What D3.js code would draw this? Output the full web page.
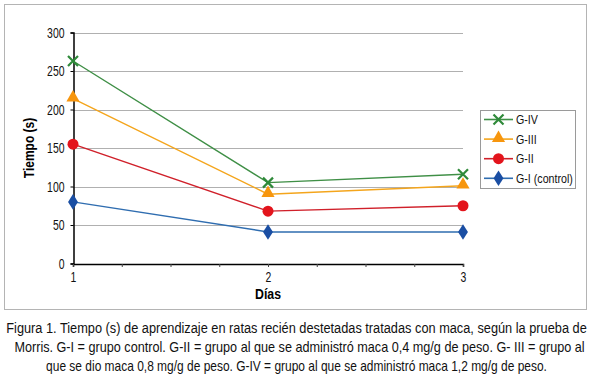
<!DOCTYPE html>
<html>
<head>
<meta charset="utf-8">
<script src="https://cdn.jsdelivr.net/npm/d3@7"></script>
<style>
  body { margin: 0; background: #fff; }
  svg { display: block; font-family: "Liberation Sans", Arial, sans-serif; }
</style>
</head>
<body>
<div id="container"></div>
<script>
let w = 591;
let h = 379;

// data
let dias = [1, 2, 3];
let gIV = [263, 105, 116];
let gIII = [214, 90, 101];
let gII = [155, 68, 75];
let gI = [80, 41, 41];
let yTicks = [0, 50, 100, 150, 200, 250, 300];
let seriesNames = ["G-IV", "G-III", "G-II", "G-I (control)"];
let caption = [
  "Figura 1. Tiempo (s) de aprendizaje en ratas recién destetadas tratadas con maca, según la prueba de",
  "Morris. G-I = grupo control. G-II = grupo al que se administró maca 0,4 mg/g de peso. G- III = grupo al",
  "que se dio maca 0,8 mg/g de peso. G-IV = grupo al que se administró maca 1,2 mg/g de peso."
];
// left and right ends of the caption lines
let captionSpan = [[6, 587], [14, 585], [46, 547]];

let series = [
  { name: seriesNames[0], values: gIV, line: "#3f8f46", fill: "#2f8a3a", shape: "x" },
  { name: seriesNames[1], values: gIII, line: "#f4a51c", fill: "#f7960e", shape: "tri" },
  { name: seriesNames[2], values: gII, line: "#d0202a", fill: "#e3141c", shape: "circle" },
  { name: seriesNames[3], values: gI, line: "#2f6db0", fill: "#1a4ea3", shape: "diamond" }
];

// squeeze a text so it looks like the narrow font of the original
function condense(sel, k) {
  sel.each(function() {
    let len = this.getComputedTextLength();
    d3.select(this).attr("textLength", len * k).attr("lengthAdjust", "spacingAndGlyphs");
  });
}

let viz = d3.select("#container")
  .append("svg")
    .attr("width", w)
    .attr("height", h);

// outer frame of the chart
viz.append("rect")
  .attr("x", 4.5).attr("y", 4.5)
  .attr("width", 582).attr("height", 305)
  .attr("fill", "none")
  .attr("stroke", "#b4b4b4");

let xScale = d3.scaleLinear().domain([1, 3]).range([73, 463]);
let yScale = d3.scaleLinear().domain([0, 300]).range([263.5, 32.5]);

// gridlines
viz.append("g").selectAll("line").data(yTicks.filter(d => d > 0)).enter()
  .append("line")
    .attr("x1", 73).attr("x2", 463)
    .attr("y1", d => Math.round(yScale(d)) + 0.5)
    .attr("y2", d => Math.round(yScale(d)) + 0.5)
    .attr("stroke", "#b0b0b0");

// y axis
let yAxis = d3.axisLeft(yScale).tickValues(yTicks).tickSize(3).tickPadding(6);
let yAxisGroup = viz.append("g").attr("transform", "translate(73.5,0)").call(yAxis);
yAxisGroup.select(".domain").attr("stroke", "#000").attr("stroke-width", 1.5);
yAxisGroup.selectAll("text").attr("font-size", 14.5).attr("fill", "#111").style("font-family", "inherit")
  .call(condense, 0.72);

// x axis with minor ticks every 0.25
let xAxis = d3.axisBottom(xScale).tickValues(d3.range(1, 3.01, 0.25)).tickSize(3).tickPadding(5)
  .tickFormat(d => Number.isInteger(d) ? d : "");
let xAxisGroup = viz.append("g").attr("transform", "translate(0,264)").call(xAxis);
xAxisGroup.select(".domain").attr("stroke", "#000").attr("stroke-width", 1.5);
xAxisGroup.selectAll("text").attr("font-size", 14.5).attr("fill", "#111").style("font-family", "inherit")
  .filter(function() { return this.textContent != ""; })
  .call(condense, 0.72);
xAxisGroup.selectAll(".tick line").attr("stroke", "#444");

// axis titles
viz.append("text")
  .attr("x", xScale(2)).attr("y", 299)
  .attr("text-anchor", "middle")
  .attr("font-size", 15).attr("font-weight", "bold")
  .text("Días")
  .call(condense, 0.82);

viz.append("text")
  .attr("transform", "translate(34,148) rotate(-90)")
  .attr("text-anchor", "middle")
  .attr("font-size", 15).attr("font-weight", "bold")
  .text("Tiempo (s)")
  .call(condense, 0.8);

function drawMarker(g, s, x, y) {
  if (s.shape == "x") {
    g.append("path")
      .attr("d", "M" + (x-5) + "," + (y-5) + "L" + (x+5) + "," + (y+5) + "M" + (x-5) + "," + (y+5) + "L" + (x+5) + "," + (y-5))
      .attr("stroke", s.fill).attr("stroke-width", 2.2);
  } else if (s.shape == "tri") {
    g.append("path").attr("d", d3.symbol(d3.symbolTriangle, 75)())
      .attr("transform", "translate(" + x + "," + (y - 1) + ")").attr("fill", s.fill);
  } else if (s.shape == "circle") {
    g.append("circle").attr("cx", x).attr("cy", y).attr("r", 5.5).attr("fill", s.fill);
  } else {
    g.append("path").attr("d", d3.symbol(d3.symbolDiamond, 70)())
      .attr("transform", "translate(" + x + "," + y + ") scale(1.1,1)").attr("fill", s.fill);
  }
}

let line = d3.line().x((d, i) => xScale(dias[i])).y(d => yScale(d));

let vizgroup = viz.append("g");
series.slice().reverse().forEach(function(s) {
  let g = vizgroup.append("g");
  g.append("path").datum(s.values)
    .attr("d", line)
    .attr("fill", "none")
    .attr("stroke", s.line)
    .attr("stroke-width", 1.4);
  s.values.forEach(function(v, i) {
    drawMarker(g, s, xScale(dias[i]), yScale(v));
  });
});

// legend
let legend = viz.append("g");
legend.append("rect")
  .attr("x", 480.5).attr("y", 110.5)
  .attr("width", 95).attr("height", 78)
  .attr("fill", "#fff").attr("stroke", "#9a9a9a");
series.forEach(function(s, i) {
  let ly = 119.5 + i * 19.6;
  legend.append("line")
    .attr("x1", 484).attr("x2", 513)
    .attr("y1", ly).attr("y2", ly)
    .attr("stroke", s.line).attr("stroke-width", 1.6);
  drawMarker(legend, s, 498.5, ly);
  legend.append("text")
    .attr("x", 516).attr("y", ly + 4.5)
    .attr("font-size", 13.5).attr("fill", "#111")
    .text(s.name)
    .call(condense, 0.79);
});

// figure caption, squeezed horizontally to the widths of the original lines
viz.append("g").selectAll("text").data(caption).enter()
  .append("text")
    .attr("text-anchor", "middle")
    .attr("font-size", 14)
    .attr("fill", "#111")
    .text(d => d)
    .attr("transform", function(d, i) {
      let span = captionSpan[i];
      let k = (span[1] - span[0]) / this.getComputedTextLength();
      let cx = (span[0] + span[1]) / 2;
      return "translate(" + cx + "," + (333 + i * 19) + ") scale(" + k + ",1)";
    });
</script>
</body>
</html>
